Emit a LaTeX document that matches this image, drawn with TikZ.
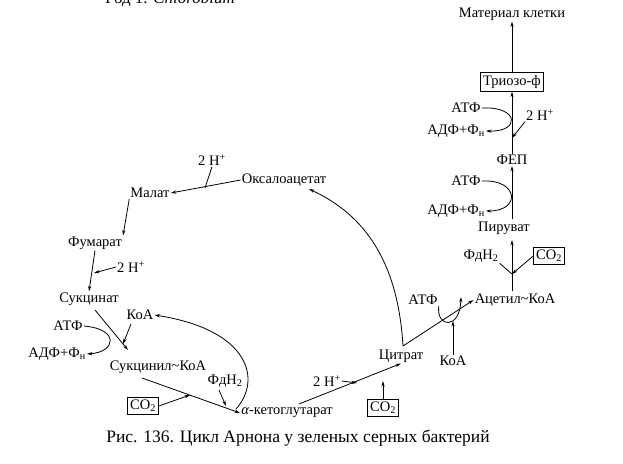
\documentclass[tikz,border=0pt]{standalone}
\usepackage{fontspec}
\setmainfont{Liberation Serif}
\usetikzlibrary{arrows.meta}
\begin{document}
\begin{tikzpicture}[x=1pt,y=-1pt,
  lbl/.style={font=\fontsize{14.5}{16}\selectfont, inner sep=1pt},
  boxed/.style={lbl, draw, line width=0.9pt, inner sep=2.5pt},
  rx/.style={line width=0.8pt, -{Stealth[length=5.5pt,width=3.2pt]}},
  ln/.style={line width=0.8pt}]
\clip (0,0) rectangle (623,463);
\useasboundingbox (0,0) rectangle (623,463);
% header (cut off at the top edge, as in the page scan)
\node[lbl, font=\fontsize{17}{18}\selectfont, anchor=base] (hdr) at (170,4) {Род 1. \textit{Chlorobium}};
% right column
\node[lbl] (mat) at (512,14) {Материал клетки};
\node[boxed] (trio) at (512,82) {Триозо-ф};
\node[lbl] (atf1) at (466,108) {АТФ};
\node[lbl] (adf1) at (456,131) {АДФ+Ф\textsubscript{н}};
\node[lbl] (h1) at (540,115) {2 H\textsuperscript{+}};
\node[lbl] (fep) at (512,160) {ФЕП};
\node[lbl] (atf2) at (466,181) {АТФ};
\node[lbl] (adf2) at (456,211) {АДФ+Ф\textsubscript{н}};
\node[lbl] (pyr) at (504,228) {Пируват};
\node[lbl] (fdr) at (481,256) {ФдН\textsubscript{2}};
\node[boxed] (co2r) at (549,256) {CO\textsubscript{2}};
\node[lbl] (acet) at (515,300) {Ацетил\textasciitilde КоА};
\node[lbl] (atf3) at (423,300) {АТФ};
\node[lbl] (koa3) at (453,361) {КоА};
\node[lbl] (cit) at (401,356) {Цитрат};
\node[lbl] (h3) at (327,381) {2 H\textsuperscript{+}};
\node[boxed] (co2b) at (383,408) {CO\textsubscript{2}};
\node[lbl] (akg) at (287,413) {\textit{α}-кетоглутарат};
% left cycle
\node[lbl] (oaa) at (284,180) {Оксалоацетат};
\node[lbl] (h0) at (212,160) {2 H\textsuperscript{+}};
\node[lbl] (mal) at (150,193) {Малат};
\node[lbl] (fum) at (95,243) {Фумарат};
\node[lbl] (h2) at (131,267) {2 H\textsuperscript{+}};
\node[lbl] (suc) at (89,299) {Сукцинат};
\node[lbl] (atfl) at (68,326) {АТФ};
\node[lbl] (koal) at (140,315) {КоА};
\node[lbl] (adfl) at (57,354) {АДФ+Ф\textsubscript{н}};
\node[lbl] (sucoa) at (158,367) {Сукцинил\textasciitilde КоА};
\node[lbl] (fdl) at (225,381) {ФдН\textsubscript{2}};
\node[boxed] (co2l) at (143,406) {CO\textsubscript{2}};
% caption
\node[lbl, font=\fontsize{17.5}{19}\selectfont] (cap) at (298,438) {Рис. 136. Цикл Арнона у зеленых серных бактерий};

% coordinates on reaction lines
\coordinate (jt1) at (512,138);
\coordinate (vf) at (512,219);
\coordinate (va) at (512,291);
\coordinate (vb) at (512,240);
\coordinate (jr) at (512,274);
\coordinate (ja) at (453,321);
\coordinate (jb) at (357,383);
\coordinate (jc) at (383,381);
\coordinate (jm) at (205,188);
\coordinate (jf) at (94,273);
\coordinate (jk) at (123,344);
\coordinate (jco) at (190,395);
\coordinate (jfd) at (226,406);
\coordinate (jl) at (236,409);
\coordinate (cn) at (403,346);
\coordinate (oe) at (309,189);
\coordinate (ak) at (299,404);
\coordinate (ss) at (95,310);
\coordinate (ks) at (131,324);
\coordinate (sc) at (142,378);
\coordinate (fd) at (219,390);

% right column connectors
\draw[rx] (trio.north) -- (mat.south);
\draw[rx] (fep.north) -- (trio.south);
\draw[rx] (atf1.east) .. controls (519,106) and (521,132) .. (adf1.east);
\draw[rx] (h1.south west) -- (jt1);
\draw[rx] (vf) -- (fep.south);
\draw[rx] (atf2.east) .. controls (519,179) and (521,211) .. (adf2.east);
\draw[rx] (va) -- (vb);
\draw[ln] (fdr.south east) -- (jr);
\draw[rx] (co2r.west) -- (jr);
% citrate lyase
\draw[rx] (cn) -- (acet.west);
\draw[rx] (koa3.north) -- (ja);
\draw[rx] (atf3.south east) .. controls (436,328) and (460,330) .. (461,297);
\draw[rx] (cn) .. controls (398,262) and (365,215) .. (oe);
% lower
\draw[rx] (ak) -- (cit.south);
\draw[rx] (h3.east) -- (jb);
\draw[rx] (co2b.north) -- (jc);
% left cycle
\draw[rx] (oaa.west) -- (mal.east);
\draw[ln] (h0.south) -- (jm);
\draw[rx] (mal.south west) -- (fum.north east);
\draw[rx] (fum.south) -- (suc.north);
\draw[rx] (h2.west) -- (jf);
\draw[rx] (ss) -- (128,350);
\draw[rx] (atfl.east) .. controls (120,329) and (116,352) .. (adfl.east);
\draw[rx] (ks) -- (jk);
\draw[rx] (sc) -- (akg.west);
\draw[rx] (co2l.east) -- (jco);
\draw[rx] (fd) -- (jfd);
\draw[rx] (jl) .. controls (262,380) and (250,330) .. (koal.east);
\end{tikzpicture}
\end{document}
